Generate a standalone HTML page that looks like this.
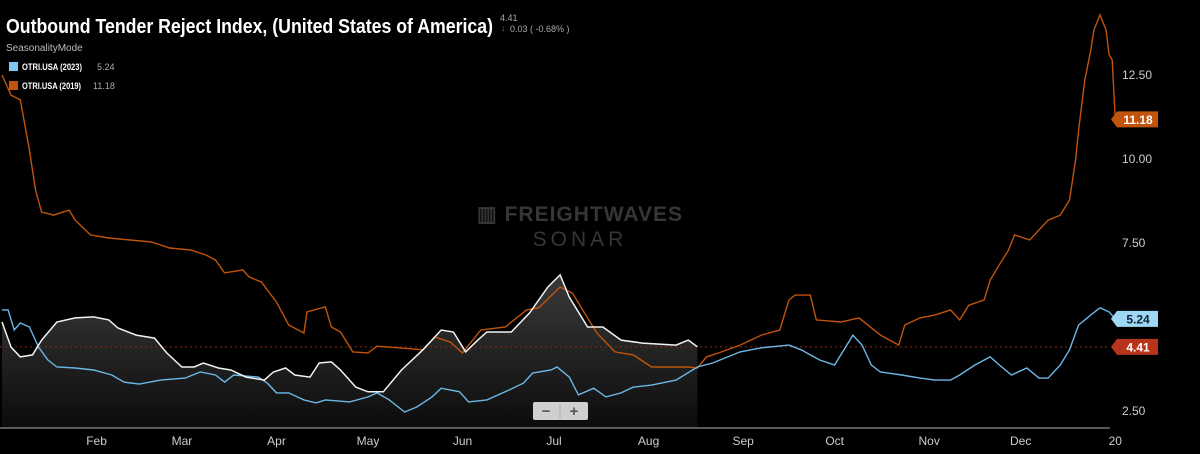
<!DOCTYPE html>
<html><head><meta charset="utf-8"><style>
html,body{margin:0;padding:0;background:#000;width:1200px;height:454px;overflow:hidden;font-family:"Liberation Sans",sans-serif}
svg text{font-family:"Liberation Sans",sans-serif}
</style></head><body>
<svg id="chart" width="1200" height="454" viewBox="0 0 1200 454">
<defs>
<linearGradient id="fillg" x1="0" y1="0" x2="0" y2="1">
<stop offset="0" stop-color="#3a3a3a"/><stop offset="1" stop-color="#0c0c0c"/>
</linearGradient>
</defs>
<g>
<text x="580" y="221" fill="#363636" font-size="21" font-weight="bold" text-anchor="middle" letter-spacing="1">▥ FREIGHTWAVES</text>
<text x="580" y="246" fill="#363636" font-size="21" text-anchor="middle" letter-spacing="4">SONAR</text>
</g>
<g id="plot"></g>
<line x1="0" y1="428" x2="1110" y2="428" stroke="#777" stroke-width="1.5"/>
<g id="xticks"></g>
<g id="yticks"></g>
<g>
<text x="6" y="33" fill="#fff" font-size="20" font-weight="bold" textLength="487" lengthAdjust="spacingAndGlyphs">Outbound Tender Reject Index, (United States of America)</text>
<text x="500" y="21" fill="#aaa" font-size="9">4.41</text>
<text x="501" y="31" fill="#e0403a" font-size="9">↓</text>
<text x="510" y="32" fill="#aaa" font-size="9">0.03 ( -0.68% )</text>
<text x="6" y="51" fill="#bbb" font-size="10">SeasonalityMode</text>
</g>
<g>
<g><rect x="9" y="62" width="9" height="9" fill="#7cc8f2"/><text x="22" y="70" fill="#fff" font-size="9" font-weight="bold" textLength="60" lengthAdjust="spacingAndGlyphs">OTRI.USA (2023)</text><text x="97" y="70" fill="#aaa" font-size="9">5.24</text></g>
<g><rect x="9" y="81" width="9" height="9" fill="#c0540c"/><text x="22" y="89" fill="#fff" font-size="9" font-weight="bold" textLength="59" lengthAdjust="spacingAndGlyphs">OTRI.USA (2019)</text><text x="93" y="89" fill="#aaa" font-size="9">11.18</text></g>
</g>
<g>
<rect x="533" y="402" width="55" height="18" rx="2" fill="#cfcfcf"/>
<line x1="560" y1="404" x2="560" y2="418" stroke="#aaa"/>
<text x="546" y="416" fill="#555" font-size="15" font-weight="bold" text-anchor="middle">−</text>
<text x="574" y="416" fill="#555" font-size="15" font-weight="bold" text-anchor="middle">+</text>
</g>
<g id="tags"></g>
</svg>
<script>
const monthLabels=["Feb","Mar","Apr","May","Jun","Jul","Aug","Sep","Oct","Nov","Dec","20"];
const monthDays=[31,59,90,120,151,181,212,243,273,304,334,365];
const yTickValues=[2.5,7.5,10,12.5];
const lastValue=4.41;
const days2019=[0,3,6,9,11,13,17,22,24,29,35,42,49,55,62,67,70,73,79,81,85,90,94,99,100,106,108,111,115,120,123,130,138,142,147,151,157,165,172,176,183,187,195,201,207,213,225,228,231,235,242,249,255,258,260,265,267,275,281,288,294,296,301,306,311,314,317,322,324,327,330,332,337,340,343,347,350,352,353,355,357,358,360,362,363,364,365];
const vals2019=[12.5,11.9,11.76,10.27,9.08,8.42,8.33,8.48,8.18,7.74,7.65,7.59,7.53,7.35,7.29,7.14,6.99,6.61,6.70,6.49,6.34,5.74,5.06,4.82,5.45,5.60,5.00,4.85,4.26,4.23,4.43,4.38,4.32,4.70,4.55,4.23,4.91,5.00,5.51,5.57,6.19,6.01,4.82,4.26,4.17,3.81,3.81,3.78,4.11,4.23,4.46,4.76,4.91,5.80,5.95,5.95,5.21,5.15,5.27,4.76,4.46,5.06,5.27,5.36,5.51,5.21,5.65,5.80,6.40,6.85,7.29,7.74,7.59,7.89,8.18,8.33,8.78,9.97,10.86,12.35,13.24,13.84,14.29,13.84,13.10,12.95,11.18];
const days2023=[0,2,4,6,9,12,15,18,24,30,36,40,45,52,60,65,70,73,76,84,87,90,94,99,103,106,114,120,123,127,132,136,141,144,150,153,159,165,171,174,180,182,186,189,194,198,203,207,213,221,228,233,242,249,258,262,268,273,277,279,282,285,288,295,301,306,311,314,319,324,327,331,336,340,343,347,350,353,357,360,363,365];
const vals2023=[5.51,5.51,4.91,5.12,5.0,4.40,4.02,3.81,3.78,3.72,3.57,3.36,3.30,3.42,3.48,3.66,3.57,3.36,3.57,3.51,3.33,3.04,3.04,2.83,2.74,2.83,2.77,2.92,3.04,2.83,2.47,2.62,2.92,3.18,3.07,2.77,2.83,3.07,3.33,3.63,3.72,3.81,3.51,2.98,3.18,2.92,3.04,3.21,3.27,3.42,3.81,3.93,4.26,4.38,4.46,4.32,4.02,3.87,4.46,4.76,4.46,3.87,3.66,3.57,3.48,3.42,3.42,3.57,3.87,4.11,3.87,3.57,3.78,3.48,3.48,3.87,4.32,5.06,5.36,5.57,5.45,5.24];
const daysCur=[0,3,6,10,13,18,24,30,35,38,44,50,54,59,63,66,71,75,80,86,89,93,96,101,104,108,111,116,120,125,131,138,144,148,152,156,159,167,173,179,183,186,192,197,203,210,221,225,228];
const valsCur=[5.15,4.40,4.11,4.17,4.61,5.15,5.27,5.30,5.21,4.97,4.76,4.67,4.23,3.81,3.81,3.93,3.78,3.72,3.51,3.42,3.66,3.78,3.57,3.51,3.93,3.96,3.72,3.21,3.07,3.07,3.72,4.32,4.91,4.85,4.26,4.61,4.85,4.85,5.42,6.19,6.55,5.89,5.0,5.0,4.61,4.52,4.46,4.61,4.41];

const NS="http://www.w3.org/2000/svg";
const X=d=>2+d*3.05;
const Y=v=>411-(v-2.5)*33.6;
function mk(tag,attrs,parent){const e=document.createElementNS(NS,tag);for(const k in attrs)e.setAttribute(k,attrs[k]);parent.appendChild(e);return e;}
function pts(ds,vs){return ds.map((d,i)=>X(d).toFixed(1)+","+Y(vs[i]).toFixed(1)).join(" ");}
const plot=document.getElementById("plot");
const fp="M"+X(daysCur[0])+",428 L"+pts(daysCur,valsCur).replace(/ /g," L")+" L"+X(daysCur[daysCur.length-1])+",428 Z";
const fill=mk("path",{d:fp,fill:"url(#fillg)"},plot);


const ref=mk("line",{x1:0,x2:1110,y1:Y(lastValue),y2:Y(lastValue),stroke:"#8a2a12","stroke-dasharray":"2,3","stroke-width":1},plot);


const l19=mk("polyline",{points:pts(days2019,vals2019),fill:"none",stroke:"#c0540c","stroke-width":1.4},plot);


const l23=mk("polyline",{points:pts(days2023,vals2023),fill:"none",stroke:"#6cb8e6","stroke-width":1.4},plot);


const lc=mk("polyline",{points:pts(daysCur,valsCur),fill:"none",stroke:"#f2f2f2","stroke-width":1.5},plot);


const xt=document.getElementById("xticks");
monthLabels.forEach((m,i)=>{const t=mk("text",{x:X(monthDays[i]),y:445,fill:"#ccc","font-size":12,"text-anchor":"middle"},xt);t.textContent=m;

});
const yt=document.getElementById("yticks");
yTickValues.forEach(v=>{const t=mk("text",{x:1122,y:Y(v)+4,fill:"#ccc","font-size":12},yt);t.textContent=v.toFixed(2);

});
const tags=document.getElementById("tags");
function tag(v,bg,fg,name){const y=Y(v);const g=mk("g",{},tags);


mk("path",{d:`M1111,${y} L1117,${y-8} L1158,${y-8} L1158,${y+8} L1117,${y+8} Z`,fill:bg},g);
const t=mk("text",{x:1138,y:y+4.5,fill:fg,"font-size":12,"font-weight":"bold","text-anchor":"middle"},g);t.textContent=v.toFixed(2);}
tag(vals2019[vals2019.length-1],"#c0540c","#fff","tag-2019");
tag(vals2023[vals2023.length-1],"#9fd8f7","#123","tag-2023");
tag(lastValue,"#b8341a","#fff","tag-last-value");
</script>
</body></html>
